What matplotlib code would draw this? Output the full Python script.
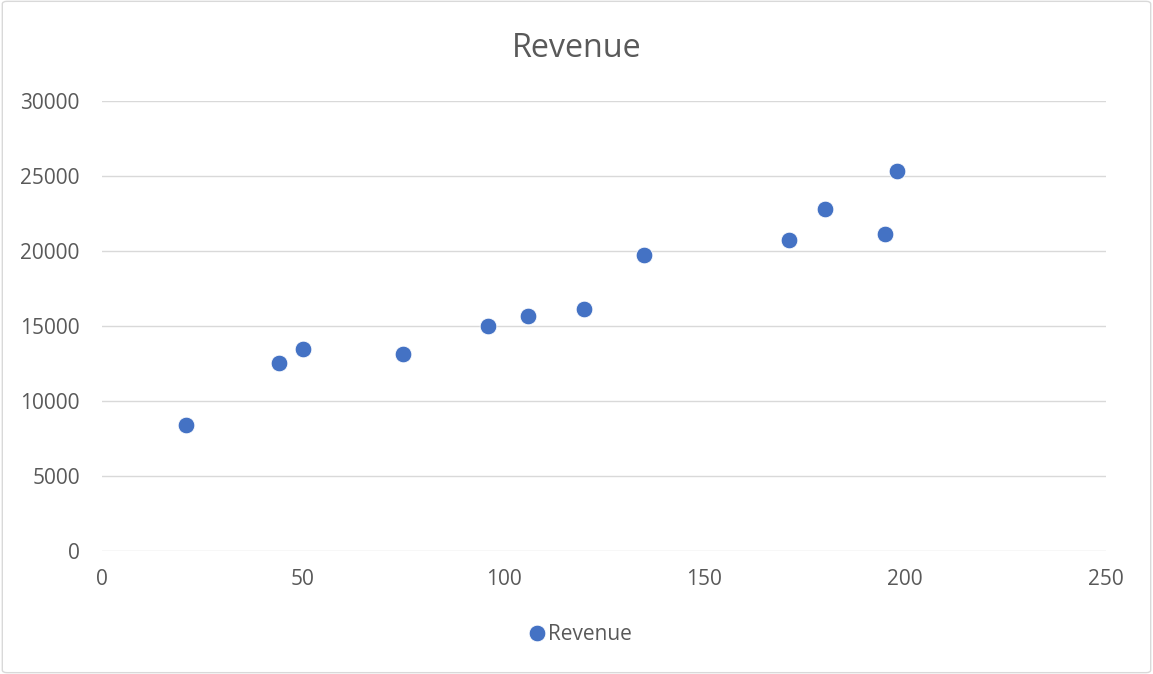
import matplotlib.pyplot as plt
from matplotlib.patches import FancyBboxPatch

# data
units = [21, 44, 50, 75, 96, 106, 120, 135, 171, 180, 195, 198]
revenue = [8360, 12490, 13430, 13110, 14980, 15650, 16090, 19710, 20710, 22760, 21110, 25310]

x_ticks = [0, 50, 100, 150, 200, 250]
y_ticks = [0, 5000, 10000, 15000, 20000, 25000, 30000]

text_color = '#595959'
plt.rcParams['font.family'] = ['Open Sans', 'DejaVu Sans']

fig = plt.figure(figsize=(11.53, 6.74), dpi=100)
ax = fig.add_axes([0.0885, 0.183, 0.8707, 0.6676])

# chart border
fig.patches.append(FancyBboxPatch((0.002, 0.002), 0.996, 0.996, boxstyle='round,pad=0,rounding_size=0.004',
                                  transform=fig.transFigure, fill=False, edgecolor='#D9D9D9', linewidth=1))

ax.plot(units, revenue, linestyle='none', marker='o', markersize=12, color='#4472C4',
        markeredgecolor='white', markeredgewidth=0.6, label='Revenue', zorder=3)

ax.set_xlim(0, 250)
ax.set_ylim(0, 30000)
ax.set_xticks(x_ticks)
ax.set_yticks(y_ticks)
ax.grid(axis='y', color='#D9D9D9', linewidth=1)
ax.set_axisbelow(True)
for s in ax.spines.values():
    s.set_visible(False)
ax.tick_params(axis='both', length=0, labelsize=15, colors=text_color)
ax.tick_params(axis='y', pad=16)
ax.tick_params(axis='x', pad=13)

fig.text(0.5, 0.928, 'Revenue', ha='center', va='center', fontsize=23.2, color=text_color)

fig.legend(loc='center', bbox_to_anchor=(0.5026, 0.058), frameon=False, fontsize=15,
           labelcolor=text_color, handletextpad=0.05, handlelength=1, markerscale=1.0)

fig.savefig('out.png', dpi=100)
